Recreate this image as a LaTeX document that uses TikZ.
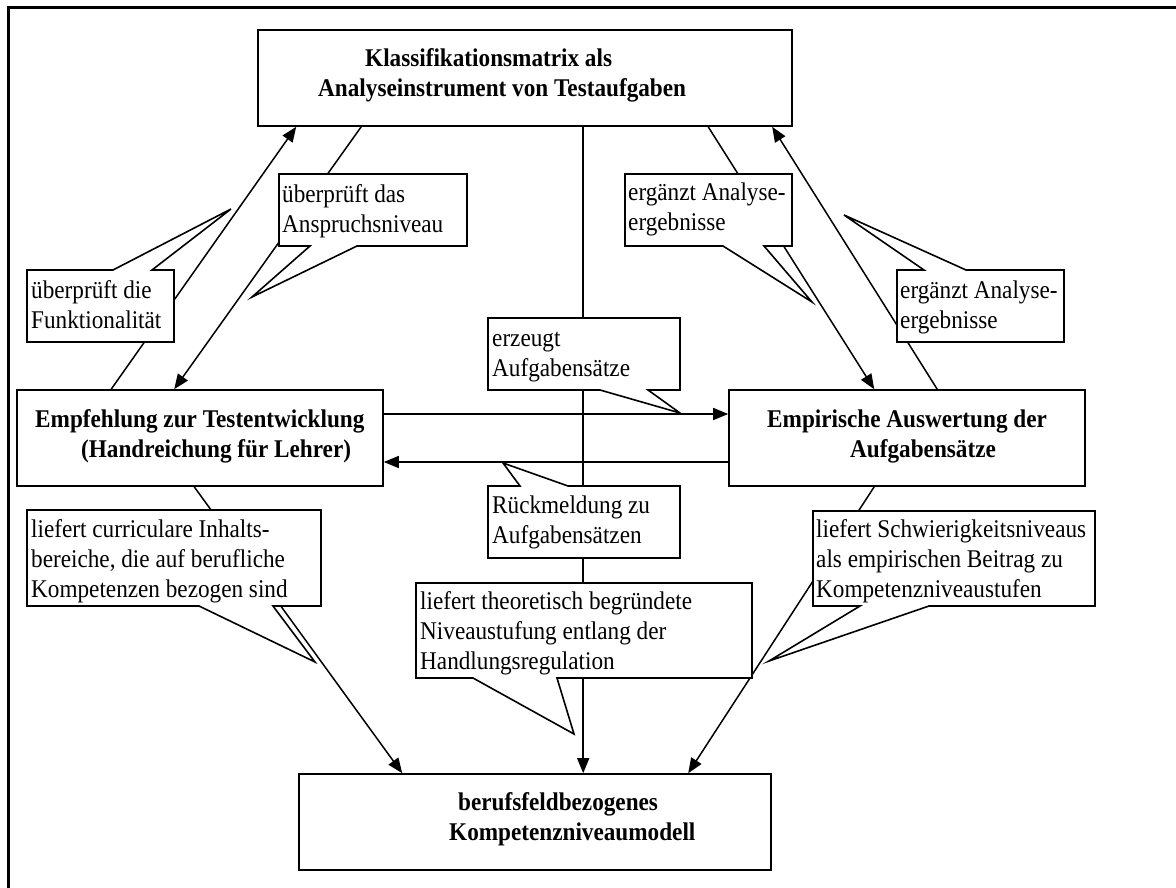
\documentclass[tikz,border=0pt]{standalone}
\usepackage{fontspec}
\setmainfont{Liberation Serif}[FakeStretch=0.91]
\usetikzlibrary{arrows.meta}
\pgfdeclarelayer{bg}\pgfdeclarelayer{mid}\pgfsetlayers{bg,mid,main}
\newcommand\fs{\rule{0pt}{17.5pt}}
\begin{document}
\begin{tikzpicture}[x=1pt,y=-1pt,
  box/.style={draw,fill=white,line width=1.6pt,inner sep=0pt},
  bt/.style={anchor=north west,inner sep=0pt,align=left,font=\fontsize{25.5}{30}\selectfont\bfseries},
  ct/.style={anchor=north west,inner sep=0pt,align=left,font=\fontsize{25.5}{30}\selectfont},
  co/.style={draw,fill=white,line width=1.6pt,line join=miter},
  arr/.style={line width=1.5pt,-{Triangle[length=15pt,width=12pt]}},
  ln/.style={line width=1.5pt}]
\useasboundingbox (0,0) rectangle (1176,888);
\draw[line width=2.6pt] (8.3,900) -- (8.3,7.3) -- (1190,7.3);

% main boxes
\node[box,minimum width=534pt,minimum height=96pt] (T) at (525,78) {};
\node[box,minimum width=366pt,minimum height=96pt] (L) at (200,438) {};
\node[box,minimum width=356pt,minimum height=96pt] (R) at (907,438) {};
\node[box,minimum width=472pt,minimum height=96pt] (B) at (535,822) {};
\node[bt] (Tt) at (318,48.5) {\fs\hspace*{47pt}Klassifikationsmatrix als\\Analyseinstrument von Testaufgaben};
\node[bt] (Lt) at (35,409.5) {\fs Empfehlung zur Testentwicklung\\\hspace*{46pt}(Handreichung für Lehrer)};
\node[bt] (Rt) at (767,409.5) {\fs Empirische Auswertung der\\\hspace*{83pt}Aufgabensätze};
\node[bt] (Bt) at (449,792.5) {\fs\hspace*{9pt}berufsfeldbezogenes\\Kompetenzniveaumodell};

% callout texts
\node[ct] (c1) at (31,280.5) {\fs überprüft die\\Funktionalität};
\node[ct] (c2) at (282,184.5) {\fs überprüft das\\Anspruchsniveau};
\node[ct] (c3) at (492,328.5) {\fs erzeugt\\Aufgabensätze};
\node[ct] (c4) at (492,495.5) {\fs Rückmeldung zu\\Aufgabensätzen};
\node[ct] (c5) at (420,591.5) {\fs liefert theoretisch begründete\\Niveaustufung entlang der\\Handlungsregulation};
\node[ct] (c6) at (31,519.5) {\fs liefert curriculare Inhalts-\\bereiche, die auf berufliche\\Kompetenzen bezogen sind};
\node[ct] (c7) at (816,519.5) {\fs liefert Schwierigkeitsniveaus\\als empirischen Beitrag zu\\Kompetenzniveaustufen};
\node[ct] (c8) at (628,182.5) {\fs ergänzt Analyse-\\ergebnisse};
\node[ct] (c9) at (900,280.5) {\fs ergänzt Analyse-\\ergebnisse};

% callout outlines
\begin{pgfonlayer}{mid}
\path[co] (27,270) -- (113,270) -- (231,209) -- (152,270) -- (174,270) -- (174,342) -- (27,342) -- cycle;
\path[co] (279,174) -- (467,174) -- (467,246) -- (357,246) -- (252,297) -- (310,246) -- (279,246) -- cycle;
\path[co] (488,318) -- (680,318) -- (680,390) -- (648,390) -- (680,413) -- (600,390) -- (488,390) -- cycle;
\path[co] (488,486) -- (520,486) -- (503,463) -- (568,486) -- (680,486) -- (680,558) -- (488,558) -- cycle;
\path[co] (416,583) -- (752,583) -- (752,678) -- (557,678) -- (574,734) -- (473,678) -- (416,678) -- cycle;
\path[co] (27,510) -- (321,510) -- (321,606) -- (273,606) -- (315,662) -- (199,606) -- (27,606) -- cycle;
\path[co] (813,511) -- (1095,511) -- (1095,606) -- (929,606) -- (769,661) -- (860,606) -- (813,606) -- cycle;
\path[co] (625,174) -- (792,174) -- (792,246) -- (764,246) -- (812,302) -- (723,246) -- (625,246) -- cycle;
\path[co] (897,270) -- (924,270) -- (844,215) -- (966,270) -- (1064,270) -- (1064,342) -- (897,342) -- cycle;
\end{pgfonlayer}

% connectors
\begin{pgfonlayer}{bg}
\draw[arr] ([xshift=95pt]L.north west) -- ([xshift=39pt]T.south west);
\draw[arr] ([xshift=104pt]T.south west) -- ([xshift=158pt]L.north west);
\draw[arr] ([xshift=451pt]T.south west) -- ([xshift=146pt]R.north west);
\draw[arr] ([xshift=209pt]R.north west) -- ([xshift=515pt]T.south west);
\draw[arr] ([yshift=24pt]L.east) -- ([yshift=24pt]R.west);
\draw[arr] ([yshift=-24pt]R.west) -- ([yshift=-24pt]L.east);
\draw[arr] ([xshift=326pt]T.south west) -- ([xshift=285pt]B.north west);
\draw[arr] ([xshift=178pt]L.south west) -- ([xshift=104pt]B.north west);
\draw[arr] ([xshift=146pt]R.south west) -- ([xshift=390pt]B.north west);
\end{pgfonlayer}
\end{tikzpicture}
\end{document}
